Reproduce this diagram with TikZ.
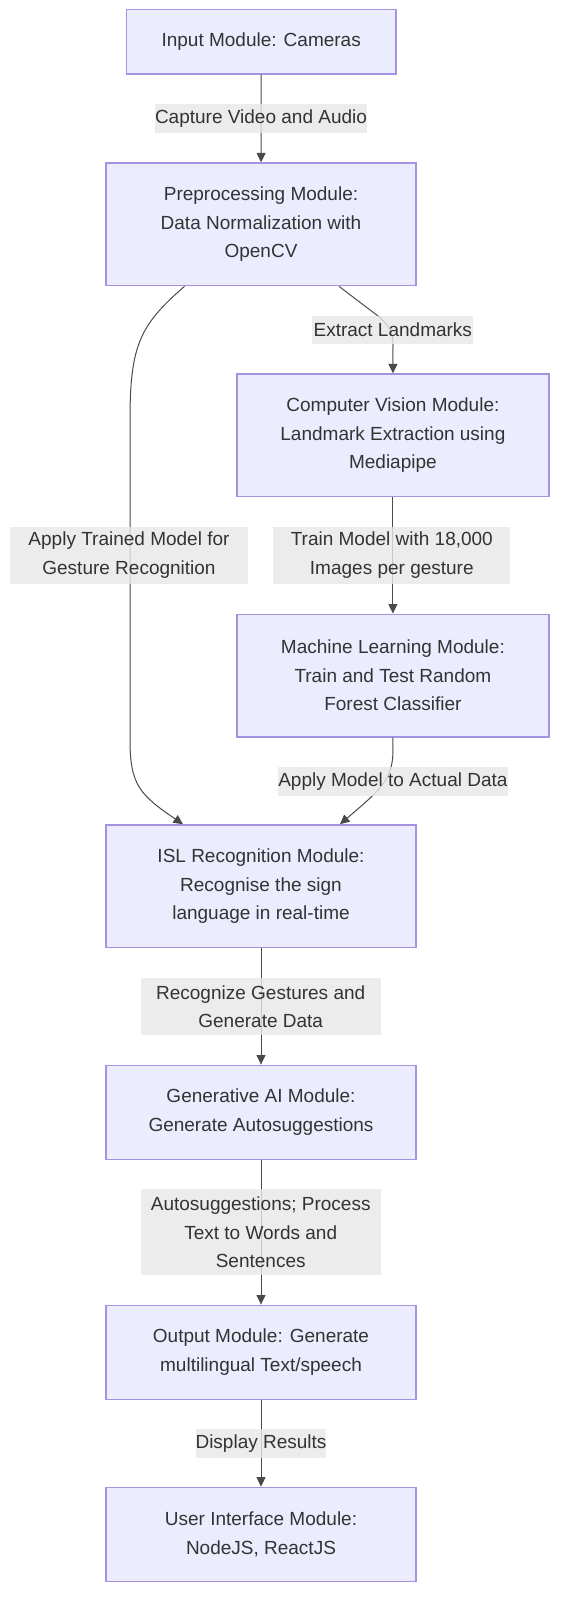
\documentclass[tikz,border=0pt]{standalone}
\usepackage{fontspec}
\setmainfont{Liberation Sans}
\usetikzlibrary{arrows.meta}
\definecolor{boxfill}{HTML}{ECECFF}
\definecolor{boxline}{HTML}{A592E0}
\definecolor{txt}{HTML}{333333}
\definecolor{linec}{HTML}{4A4A4A}
\definecolor{lblfill}{HTML}{E8E8E8}
\begin{document}
\begin{tikzpicture}[x=1pt,y=-1pt,
  box/.style={draw=boxline, fill=boxfill, line width=1.3pt, text=txt, align=center,
    inner sep=0pt, font=\fontsize{19}{28.5}\selectfont},
  wbox/.style={box, minimum width=310pt},
  rbox/.style={box, minimum width=312pt},
  lbl/.style={fill=lblfill, fill opacity=0.8, text opacity=1, text=txt, align=center,
    inner sep=0pt, font=\fontsize{19}{28.5}\selectfont},
  conn/.style={draw=linec, line width=1pt, -{Triangle[length=9.5pt,width=9pt]}}
]
\useasboundingbox[fill=white] (0,0) rectangle (562,1600);

% boxes
\node[box, minimum width=269.5pt, minimum height=64.7pt] (in) at (261.2,41.65) {Input Module: Cameras};
\node[wbox, minimum height=122.7pt] (pre) at (261,224.35) {Preprocessing Module:\\Data Normalization with\\OpenCV};
\node[rbox, minimum height=122.7pt] (cv) at (392.9,435.35) {Computer Vision Module:\\Landmark Extraction using\\Mediapipe};
\node[rbox, minimum height=122.7pt] (ml) at (392.9,675.5) {Machine Learning Module:\\Train and Test Random\\Forest Classifier};
\node[wbox, minimum height=122.7pt] (isl) at (261,886.2) {ISL Recognition Module:\\Recognise the sign\\language in real-time};
\node[wbox, minimum height=94pt] (gen) at (261,1112.2) {Generative AI Module:\\Generate Autosuggestions};
\node[wbox, minimum height=94pt] (out) at (261,1352.2) {Output Module: Generate\\multilingual Text/speech};
\node[wbox, minimum height=94pt] (ui) at (261,1534.3) {User Interface Module:\\NodeJS, ReactJS};

% connectors
\draw[conn] (in) -- (pre);
\draw[conn] ([xshift=78pt]pre.south) -- (378,316) .. controls (390,326) and (393,334) .. (393,345) -- (cv.north);
\draw[conn] ([xshift=-76.5pt]pre.south) .. controls (140,325) and (130,345) .. (130,420) -- (130,740) .. controls (130,785) and (140,795) .. ([xshift=-78pt]isl.north);
\draw[conn] (cv) -- (ml);
\draw[conn] (ml.south) -- (393,750) .. controls (393,780) and (380,790) .. ([xshift=79pt]isl.north);
\draw[conn] (isl) -- (gen);
\draw[conn] (gen) -- (out);
\draw[conn] (out) -- (ui);

% edge labels
\node[lbl, minimum width=212pt, minimum height=28.4pt] (l1) at (261,118.5) {Capture Video and Audio};
\node[lbl, minimum width=161pt, minimum height=28.4pt] (l2) at (392.8,329.7) {Extract Landmarks};
\node[lbl, minimum width=238pt, minimum height=57.3pt] (l3) at (129,555.3) {Apply Trained Model for\\Gesture Recognition};
\node[lbl, minimum width=236.7pt, minimum height=57.3pt] (l4) at (391.8,555.3) {Train Model with 18,000\\Images per gesture};
\node[lbl, minimum width=230.6pt, minimum height=28.4pt] (l5) at (392.9,781.3) {Apply Model to Actual Data};
\node[lbl, minimum width=239.8pt, minimum height=57.3pt] (l6) at (260.7,1006.7) {Recognize Gestures and\\Generate Data};
\node[lbl, minimum width=239.8pt, minimum height=85.7pt] (l7) at (260.7,1232.2) {Autosuggestions; Process\\Text to Words and\\Sentences};
\node[lbl, minimum width=130.6pt, minimum height=28.4pt] (l8) at (261,1443.3) {Display Results};
\end{tikzpicture}
\end{document}
